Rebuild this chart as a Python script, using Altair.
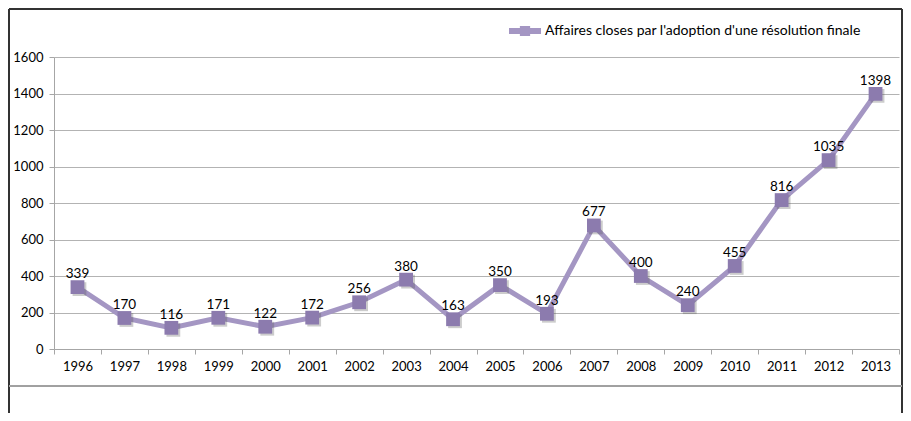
import altair as alt
import pandas as pd

years = [str(y) for y in range(1996, 2014)]
values = [339, 170, 116, 171, 122, 172, 256, 380, 163, 350, 193, 677, 400, 240, 455, 816, 1035, 1398]
series_name = "Affaires closes par l'adoption d'une résolution finale"
y_ticks = [0, 200, 400, 600, 800, 1000, 1200, 1400, 1600]

df = pd.DataFrame({"year": years, "value": values, "series": [series_name] * len(years)})

LINE = "#A496C3"
MARK = "#8C7BAE"
FONT = "Lato"

x_enc = alt.X(
    "year:O",
    bandPosition=0.5,
    scale=alt.Scale(type="band", paddingInner=0, paddingOuter=0),
    axis=alt.Axis(
        title=None, labelAngle=0, tickBand="extent", domainColor="#A6A6A6",
        tickColor="#A6A6A6", tickSize=5, labelPadding=6, labelFontSize=13,
        labelColor="#000000", labelFont=FONT, grid=False,
    ),
)
y_enc = alt.Y(
    "value:Q",
    scale=alt.Scale(domain=[0, 1600], nice=False),
    axis=alt.Axis(
        title=None, values=y_ticks, format="d", grid=True, gridColor="#B3B3B3",
        domainColor="#A6A6A6", tickColor="#A6A6A6", tickSize=5,
        labelPadding=6, labelFontSize=13, labelColor="#000000", labelFont=FONT,
    ),
)

base = alt.Chart(df)

line = base.mark_line(strokeWidth=5).encode(
    x=x_enc, y=y_enc,
    color=alt.Color(
        "series:N", title=None,
        scale=alt.Scale(range=[LINE]),
        legend=alt.Legend(
            orient="none", legendX=455, legendY=-42, padding=0,
            symbolType="M-1,-0.19L1,-0.19L1,0.19L-1,0.19Z M-0.32,-0.32L0.32,-0.32L0.32,0.32L-0.32,0.32Z",
            symbolSize=1024, symbolStrokeWidth=0, symbolFillColor=LINE, symbolOpacity=1,
            labelFontSize=14, labelFont=FONT,
            labelColor="#000000", labelOffset=4, labelLimit=500,
        ),
    ),
)
shadow = base.mark_square(size=190, color="#555555", opacity=0.3, xOffset=2, yOffset=2).encode(x=x_enc, y=y_enc)
points = base.mark_square(size=190, color=MARK, opacity=1).encode(x=x_enc, y=y_enc)
labels = base.mark_text(baseline="bottom", dy=-6, fontSize=13.5, font=FONT, color="#000000").encode(
    x=x_enc, y=y_enc, text="value:Q"
)

# frame around the chart area
frame_top = alt.Chart(df).mark_rule(color="#333333", strokeWidth=1.5).encode(
    x=alt.value(-45), x2=alt.value(848), y=alt.value(-48)
)
frame_left = alt.Chart(df).mark_rule(color="#333333", strokeWidth=2).encode(
    x=alt.value(-45), y=alt.value(-48), y2=alt.value(360)
)
frame_right = alt.Chart(df).mark_rule(color="#333333", strokeWidth=2).encode(
    x=alt.value(848), y=alt.value(-48), y2=alt.value(360)
)
frame_bottom = alt.Chart(df).mark_rule(color="#A0A0A0", strokeWidth=1).encode(
    x=alt.value(-45), x2=alt.value(848), y=alt.value(329)
)

chart = alt.layer(
    frame_top, frame_left, frame_right, frame_bottom, line, shadow, points, labels
).properties(
    width=845, height=292,
    autosize=alt.AutoSizeParams(type="none"),
    padding={"left": 46, "top": 49, "right": 4, "bottom": 64},
).configure_view(strokeWidth=0)

chart.save("out.html", embed_options={"renderer": "svg", "actions": False})
